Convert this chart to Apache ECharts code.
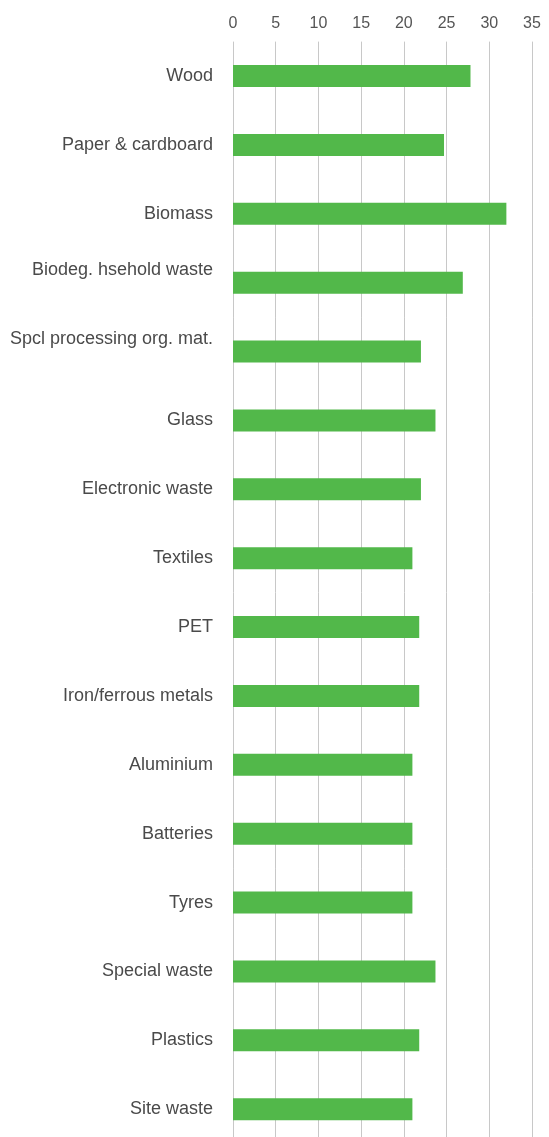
<!DOCTYPE html>
<html>
<head>
<meta charset="utf-8">
<style>
  html, body { margin: 0; padding: 0; background: #ffffff; overflow: hidden; }
  #chart { width: 549px; height: 1160px; }
</style>
<script src="https://cdn.jsdelivr.net/npm/echarts@6/dist/echarts.min.js"></script>
</head>
<body>
<div id="chart"></div>
<script>
const categories = [
  'Wood',
  'Paper & cardboard',
  'Biomass',
  'Biodeg. hsehold waste',
  'Spcl processing org. mat.',
  'Glass',
  'Electronic waste',
  'Textiles',
  'PET',
  'Iron/ferrous metals',
  'Aluminium',
  'Batteries',
  'Tyres',
  'Special waste',
  'Plastics',
  'Site waste'
];
const values = [27.8, 24.7, 32, 26.9, 22, 23.7, 22, 21, 21.8, 21.8, 21, 21, 21, 23.7, 21.8, 21];
const tickValues = [0, 5, 10, 15, 20, 25, 30, 35];
// labels drawn slightly above their bar in the reference
const raisedLabels = ['Biodeg. hsehold waste', 'Spcl processing org. mat.'];

const chart = echarts.init(document.getElementById('chart'), null, { renderer: 'canvas' });
chart.setOption({
  animation: false,
  backgroundColor: '#ffffff',
  grid: { left: 233, top: 41.6, width: 299, height: 1102, containLabel: false },
  xAxis: {
    type: 'value',
    position: 'top',
    min: tickValues[0],
    max: tickValues[tickValues.length - 1],
    interval: 5,
    axisLine: { show: false },
    axisTick: { show: false },
    axisLabel: {
      color: '#555555',
      fontSize: 16,
      fontFamily: 'Liberation Sans, Arial, sans-serif',
      margin: 10
    },
    splitLine: { show: true, lineStyle: { color: '#c8c8c8', width: 1 } }
  },
  yAxis: {
    type: 'category',
    inverse: true,
    data: categories,
    axisLine: { show: false },
    axisTick: { show: false },
    splitLine: { show: false },
    axisLabel: {
      color: '#4a4a4a',
      fontSize: 18,
      fontFamily: 'Liberation Sans, Arial, sans-serif',
      margin: 20,
      lineHeight: 26,
      formatter: function (v) {
        return raisedLabels.indexOf(v) >= 0 ? v + '\n' : v;
      }
    }
  },
  series: [{
    type: 'bar',
    data: values,
    barWidth: 22,
    itemStyle: { color: '#52b84a' },
    silent: true
  }]
});
</script>
</body>
</html>
